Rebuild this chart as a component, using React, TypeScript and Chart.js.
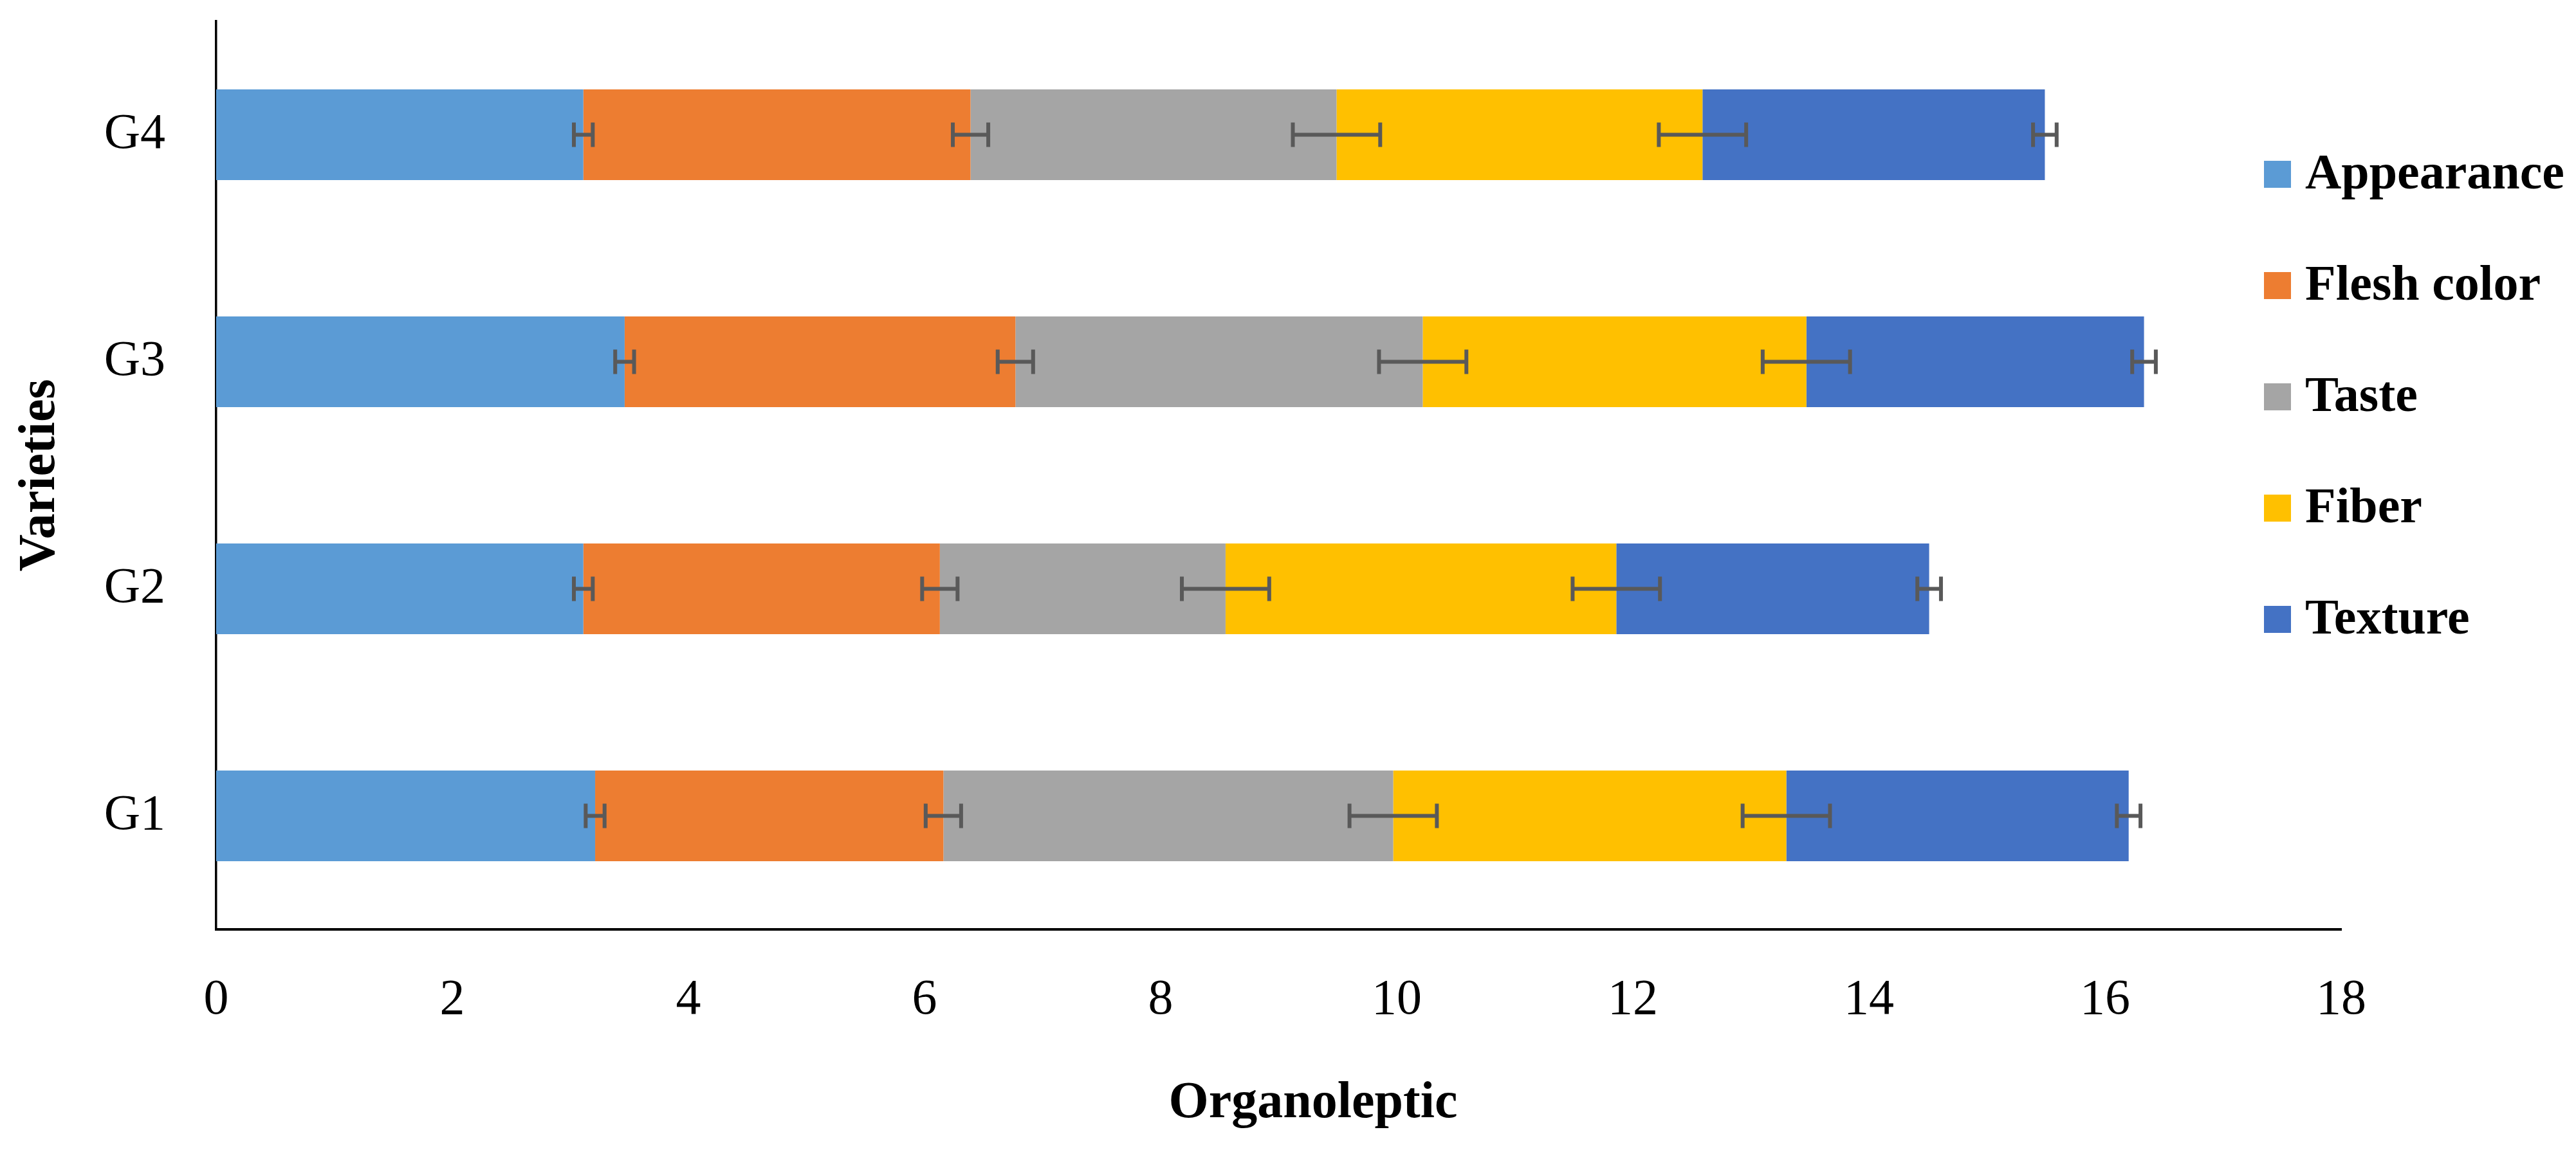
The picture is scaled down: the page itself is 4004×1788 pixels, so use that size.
import React, { useEffect, useRef } from "react";
import { Chart, registerables } from "chart.js";

Chart.register(...registerables);

const categories = ["G1", "G2", "G3", "G4"];
const seriesNames = ["Appearance", "Flesh color", "Taste", "Fiber", "Texture"];
const seriesColors = ["#5B9BD5", "#ED7D31", "#A5A5A5", "#FFC000", "#4472C4"];

const appearance = [3.21, 3.11, 3.46, 3.11];
const fleshColor = [2.95, 3.02, 3.31, 3.28];
const taste = [3.81, 2.42, 3.45, 3.10];
const fiber = [3.33, 3.31, 3.25, 3.10];
const texture = [2.90, 2.65, 2.86, 2.90];

const appearanceErr = [0.08, 0.08, 0.08, 0.08];
const fleshColorErr = [0.15, 0.15, 0.15, 0.15];
const tasteErr = [0.37, 0.37, 0.37, 0.37];
const fiberErr = [0.37, 0.37, 0.37, 0.37];
const textureErr = [0.10, 0.10, 0.10, 0.10];

const xTicks = [0, 2, 4, 6, 8, 10, 12, 14, 16, 18];
const xTitle = "Organoleptic";
const yTitle = "Varieties";

const FONT = "'Liberation Serif', 'Times New Roman', serif";

export default function App() {
  const canvasRef = useRef<HTMLCanvasElement | null>(null);

  useEffect(() => {
    document.body.style.margin = "0";
    const canvas = canvasRef.current;
    if (!canvas) return;

    const values = [appearance, fleshColor, taste, fiber, texture];
    const errors = [appearanceErr, fleshColorErr, tasteErr, fiberErr, textureErr];

    const errorBarPlugin = {
      id: "errorBars",
      afterDatasetsDraw(chart: any) {
        const ctx = chart.ctx;
        const xScale = chart.scales.x;
        ctx.save();
        ctx.strokeStyle = "#595959";
        ctx.lineWidth = 6;
        ctx.lineCap = "butt";
        for (let d = 0; d < values.length; d++) {
          const meta = chart.getDatasetMeta(d);
          for (let j = 0; j < categories.length; j++) {
            let cum = 0;
            for (let k = 0; k <= d; k++) cum += values[k][j];
            const e = errors[d][j];
            const x0 = xScale.getPixelForValue(cum - e);
            const x1 = xScale.getPixelForValue(cum + e);
            const y = meta.data[j].y;
            const cap = 19;
            ctx.beginPath();
            ctx.moveTo(x0, y);
            ctx.lineTo(x1, y);
            ctx.moveTo(x0, y - cap);
            ctx.lineTo(x0, y + cap);
            ctx.moveTo(x1, y - cap);
            ctx.lineTo(x1, y + cap);
            ctx.stroke();
          }
        }
        ctx.restore();
      },
    };

    const legendPlugin = {
      id: "sideLegend",
      afterDraw(chart: any) {
        const ctx = chart.ctx;
        ctx.save();
        ctx.font = `bold 78px ${FONT}`;
        ctx.textBaseline = "middle";
        ctx.textAlign = "left";
        chart.data.datasets.forEach((ds: any, i: number) => {
          const cy = 271 + i * 173;
          ctx.fillStyle = ds.backgroundColor;
          ctx.fillRect(3519, cy - 21, 42, 42);
          ctx.fillStyle = "#000";
          ctx.fillText(ds.label, 3583, cy + 2);
        });
        // x-axis title
        ctx.font = `bold 80px ${FONT}`;
        ctx.textAlign = "center";
        ctx.fillText(xTitle, 2041, 1716);
        ctx.restore();
      },
    };

    const chart = new Chart(canvas, {
      type: "bar",
      data: {
        labels: categories,
        datasets: seriesNames.map((name, i) => ({
          label: name,
          data: values[i],
          backgroundColor: seriesColors[i],
          borderWidth: 0,
          categoryPercentage: 0.4,
          barPercentage: 1.0,
        })),
      },
      options: {
        indexAxis: "y",
        responsive: false,
        animation: false,
        devicePixelRatio: 1,
        layout: { padding: { top: 33, right: 365, bottom: 0, left: 0 } },
        plugins: {
          legend: { display: false },
          tooltip: { enabled: false },
        },
        scales: {
          x: {
            stacked: true,
            min: 0,
            max: 18,
            afterBuildTicks: (scale: any) => {
              scale.ticks = xTicks.map((v) => ({ value: v }));
            },
            afterFit: (scale: any) => {
              scale.height = 343;
            },
            grid: { display: false, drawTicks: false },
            border: { display: true, color: "#000", width: 4 },
            ticks: {
              color: "#000",
              padding: 64,
              font: { family: FONT, size: 78 },
            },
            title: { display: false },
          },
          y: {
            stacked: true,
            reverse: true,
            afterFit: (scale: any) => {
              scale.width = 336;
              scale.paddingTop = 0;
              scale.paddingBottom = 0;
            },
            grid: { display: false, drawTicks: false },
            border: { display: true, color: "#000", width: 3.5 },
            ticks: {
              color: "#000",
              padding: 79,
              font: { family: FONT, size: 78 },
            },
            title: {
              display: true,
              text: yTitle,
              color: "#000",
              font: { family: FONT, size: 80, weight: "bold" },
              padding: { top: 15, bottom: 0 },
            },
          },
        },
      },
      plugins: [errorBarPlugin, legendPlugin],
    } as any);

    return () => {
      chart.destroy();
    };
  }, []);

  return (
    <div style={{ width: 4004, height: 1788, background: "#fff" }}>
      <canvas ref={canvasRef} width={4004} height={1788} style={{ display: "block" }} />
    </div>
  );
}
